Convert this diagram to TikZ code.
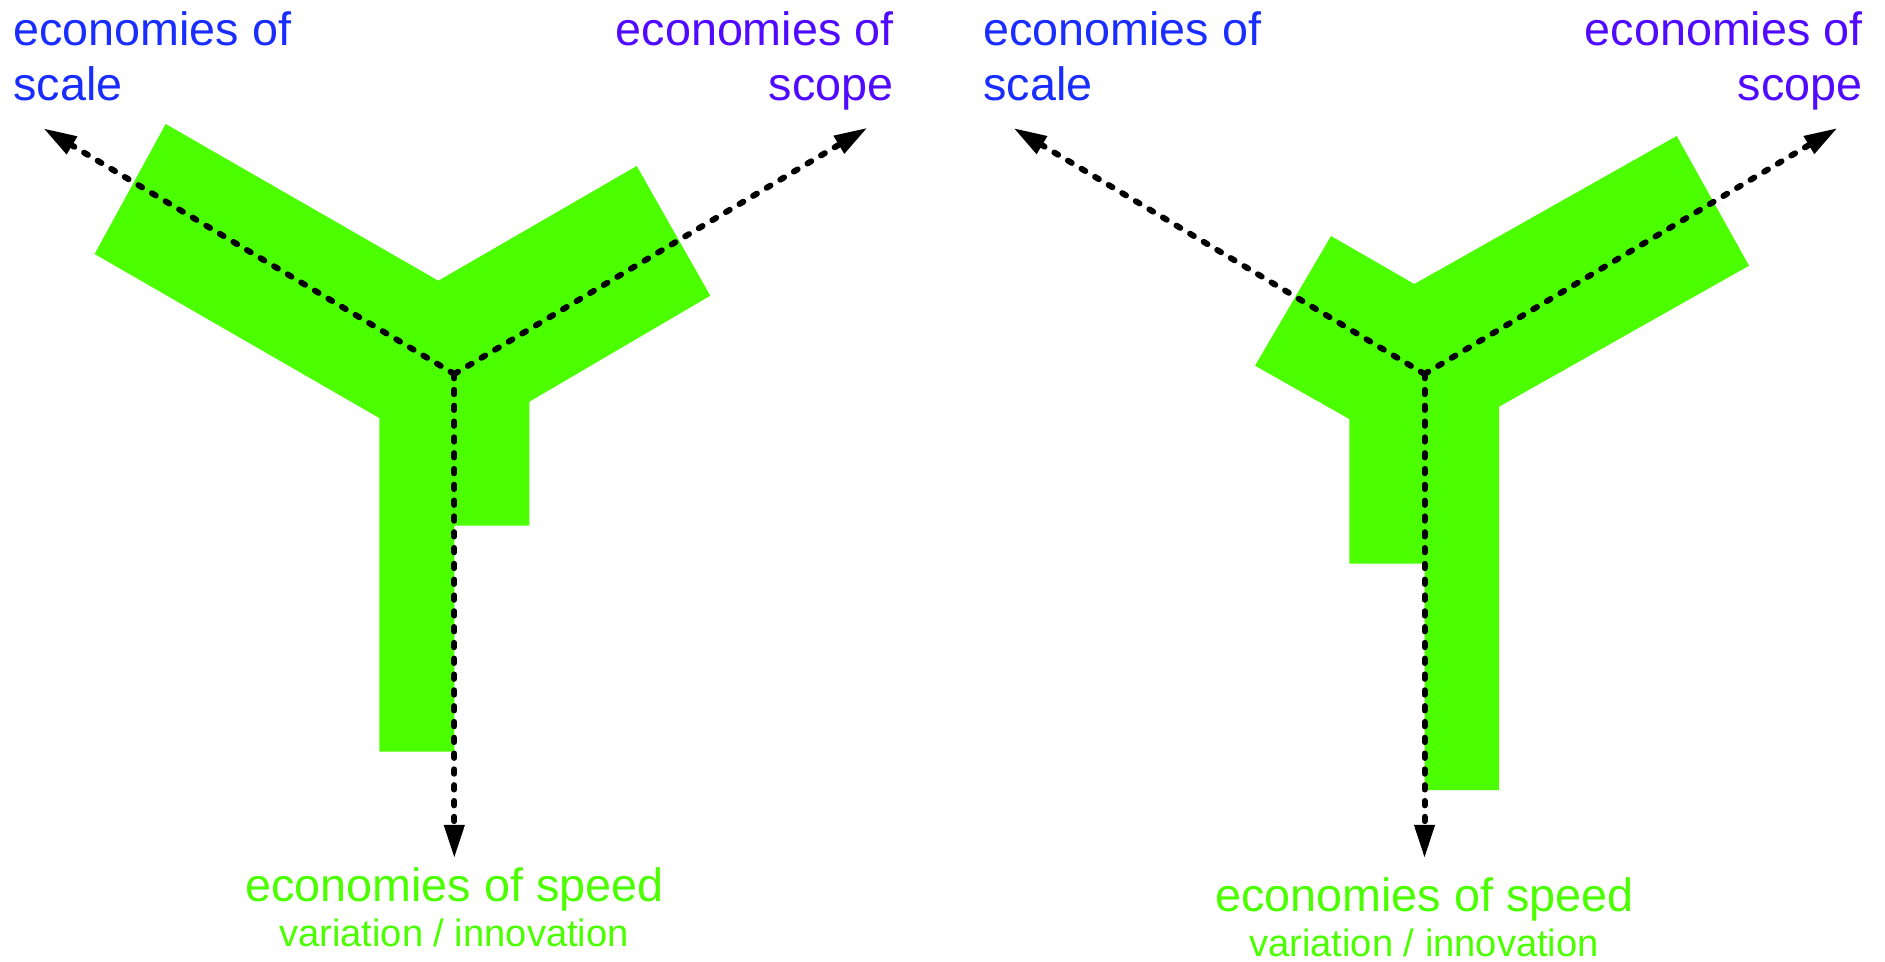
\documentclass[tikz,border=0pt]{standalone}
\usepackage{fontspec}
\setmainfont{Liberation Sans}
\usetikzlibrary{arrows.meta}
\definecolor{armgreen}{RGB}{76,255,0}
\definecolor{scaleblue}{RGB}{25,45,255}
\definecolor{scopeviolet}{RGB}{80,10,255}
\begin{document}
\begin{tikzpicture}[x=0.02cm,y=-0.02cm,
  arm/.style={fill=armgreen, draw=none},
  flow/.style={line width=3.4pt, line cap=round, dash pattern=on 2.5pt off 6.5pt,
    -{Triangle[length=19pt,width=11pt]}},
  lbl/.style={inner sep=0pt, font=\fontsize{26.6}{31.2}\selectfont},
  sublbl/.style={inner sep=0pt, font=\fontsize{21.7}{26}\selectfont}]
\useasboundingbox (0,0) rectangle (1885,961);

% ---------- left figure ----------
\fill[arm] (165.7,124) -- (438.3,280.7) -- (636.7,166) -- (710.3,295.7)
  -- (529.3,401.7) -- (529.3,525.7) -- (454.3,525.7) -- (454.3,751.7)
  -- (379.3,751.7) -- (379.3,418) -- (94.6,254) -- cycle;
\coordinate (O1) at (454.3,374);
\coordinate (L1) at (43.4,128.3);
\coordinate (R1) at (867.5,127.7);
\coordinate (D1) at (454.3,858.3);
\draw[flow] (O1) -- (L1);
\draw[flow] (O1) -- (R1);
\draw[flow] (O1) -- (D1);
\node[lbl, text=scaleblue, align=left, anchor=base west] (scale1) at (13,100.5) {economies of\\scale};
\node[lbl, text=scopeviolet, align=right, anchor=base east] (scope1) at (894,100.5) {economies of\\scope};
\node[lbl, text=armgreen, anchor=base] (speed1) at (454.3,901.7) {economies of speed};
\node[sublbl, text=armgreen, anchor=base] (var1) at (454,946.7) {variation / innovation};

% ---------- right figure ----------
\fill[arm] (1331,236) -- (1414.3,284) -- (1676.7,136) -- (1749,265.7)
  -- (1499,406.7) -- (1499,790) -- (1424.5,790) -- (1424.5,563.7)
  -- (1349.3,563.7) -- (1349.3,419) -- (1255,365.7) -- cycle;
\coordinate (O2) at (1424.5,374);
\coordinate (L2) at (1013.4,128);
\coordinate (R2) at (1837.5,128);
\coordinate (D2) at (1424.5,858.3);
\draw[flow] (O2) -- (L2);
\draw[flow] (O2) -- (R2);
\draw[flow] (O2) -- (D2);
\node[lbl, text=scaleblue, align=left, anchor=base west] (scale2) at (983,100.5) {economies of\\scale};
\node[lbl, text=scopeviolet, align=right, anchor=base east] (scope2) at (1863,100.5) {economies of\\scope};
\node[lbl, text=armgreen, anchor=base] (speed2) at (1424.5,911.7) {economies of speed};
\node[sublbl, text=armgreen, anchor=base] (var2) at (1424,956.7) {variation / innovation};
\end{tikzpicture}
\end{document}
